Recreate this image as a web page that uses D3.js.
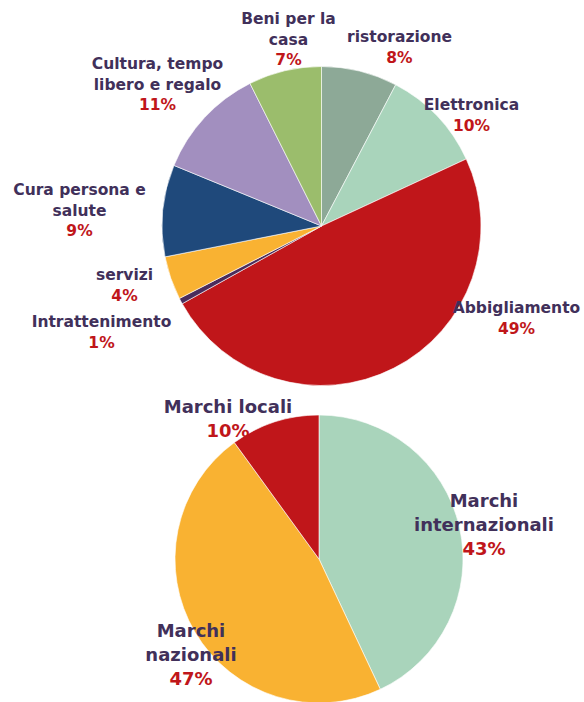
<!DOCTYPE html>
<html>
<head>
<meta charset="utf-8">
<script src="https://cdn.jsdelivr.net/npm/d3@7"></script>
<style>
  body { margin: 0; background: #fff; }
  text { font-family: "DejaVu Sans", Verdana, sans-serif; font-weight: bold; }
</style>
</head>
<body>
<script>
// top pie: settori merceologici
const topCategories = [
  ["ristorazione"], ["Elettronica"], ["Abbigliamento"], ["Intrattenimento"],
  ["servizi"], ["Cura persona e", "salute"], ["Cultura, tempo", "libero e regalo"], ["Beni per la", "casa"]
];
const topValues = [7.7, 10.4, 48.8, 0.6, 4.4, 9.3, 11.4, 7.4];
const topColors = ["#8da997", "#a9d4bb", "#c0161a", "#4a2c5c", "#f9b232", "#1f497b", "#a28fbf", "#9bbd6c"];

// bottom pie: tipologia marchi
const bottomCategories = [["Marchi", "internazionali"], ["Marchi", "nazionali"], ["Marchi locali"]];
const bottomValues = [43, 47, 10];
const bottomColors = ["#a9d4bb", "#f9b232", "#c0161a"];

const width = 584;
const height = 702;

// label anchor (first baseline) relative to each pie centre
const topLabelPos = [[78, -184], [150, -116], [195, 87], [-220, 101], [-197, 54], [-242, -31], [-164, -157], [-33, -202]];
const bottomLabelPos = [[165, -52], [-128, 78], [-91, -146]];

const svg = d3.select("body")
  .append("svg")
  .attr("width", width)
  .attr("height", height);

function drawPie(cx, cy, r, values, colors, cats, labelPos, fontSize, lineH) {
  const pie = d3.pie().sort(null).value(d => d);
  const arc = d3.arc().innerRadius(0).outerRadius(r);
  const total = d3.sum(values);

  const g = svg.append("g").attr("transform", `translate(${cx},${cy})`);

  g.selectAll("path")
    .data(pie(values))
    .join("path")
    .attr("d", arc)
    .style("fill", (d, i) => colors[i])
    .style("stroke", "#fff")
    .style("stroke-width", 0.6);

  const labels = g.selectAll("text.lbl")
    .data(cats)
    .join("text")
    .attr("class", "lbl")
    .attr("text-anchor", "middle")
    .style("font-size", fontSize + "px");

  labels.each(function (lines, i) {
    const t = d3.select(this);
    const [x, y] = labelPos[i];
    lines.forEach((line, k) => {
      t.append("tspan")
        .attr("x", x)
        .attr("y", y + k * lineH)
        .style("fill", "#41305a")
        .text(line);
    });
    t.append("tspan")
      .attr("x", x)
      .attr("y", y + lines.length * lineH)
      .style("fill", "#c0161a")
      .text(Math.round(values[i] / total * 100) + "%");
  });
}

drawPie(321.5, 226, 159.5, topValues, topColors, topCategories, topLabelPos, 15.5, 20.5);
drawPie(319, 559, 144, bottomValues, bottomColors, bottomCategories, bottomLabelPos, 18, 24);
</script>
</body>
</html>
